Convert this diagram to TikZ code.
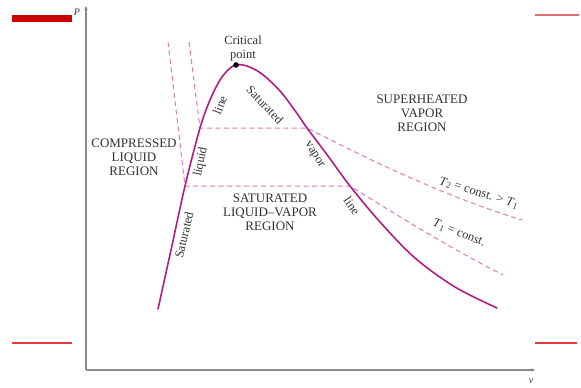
\documentclass[tikz,border=0pt]{standalone}
\usepackage{fontspec}
\setmainfont{Liberation Serif}
\usetikzlibrary{arrows.meta}
\definecolor{satcol}{HTML}{B01E82}
\definecolor{isocol}{HTML}{E27AB8}
\definecolor{axiscol}{HTML}{8A8A8A}
\definecolor{txtcol}{HTML}{333333}
\definecolor{barred}{HTML}{CC0000}
\definecolor{linered}{HTML}{E83A3A}
\definecolor{linepink}{HTML}{E07070}
\begin{document}
\begin{tikzpicture}[x=1pt,y=-1pt,
  axis/.style={draw=axiscol, line width=1.1pt, -{Latex[length=5pt,width=3.5pt]}},
  satline/.style={draw=satcol, line width=1.6pt, line cap=round},
  iso/.style={draw=isocol, line width=1pt, dash pattern=on 5pt off 3.5pt},
  region/.style={text=txtcol, font=\fontsize{13}{14}\selectfont, align=center, inner sep=0pt},
  curvelab/.style={text=txtcol, font=\fontsize{12.5}{14}\selectfont, inner sep=0pt},
  axlab/.style={text=txtcol, font=\fontsize{10}{12}\selectfont\itshape, inner sep=0pt},
  ]
\useasboundingbox (0,0) rectangle (581,388);
\fill[white] (0,0) rectangle (581,388);
% page marks
\fill[barred] (12,15) rectangle (72,22);
\draw[linepink, line width=2pt] (535,15) -- (579,15);
\draw[draw=linered, line width=1.5pt] (12,343) -- (72,343);
\draw[draw=linered, line width=1.5pt] (535,343) -- (577,343);
% axes
\coordinate (O) at (86,370);
\coordinate (Ptop) at (86,5);
\coordinate (Vend) at (536,370);
\draw[axis] (O) -- (Ptop);
\draw[axis] (O) -- (Vend);
\node[axlab] (Plab) at (77,12) {P};
\node[axlab] (vlab) at (531,381) {v};
% key points
\coordinate (cp) at (236,65);
\coordinate (lq1) at (185,186);
\coordinate (lq2) at (200,128);
\coordinate (vp2) at (307,128);
\coordinate (vp1) at (350,186);
\coordinate (t1top) at (168,42);
\coordinate (t2top) at (189,42);
\coordinate (t1end) at (503,275);
\coordinate (t2end) at (522,220);
% isotherms
\draw[iso] (t1top) -- (lq1) -- (vp1) .. controls (395,214) and (450,248) .. (t1end);
\draw[iso] (t2top) -- (lq2) -- (vp2) .. controls (360,155) and (440,195) .. (t2end);
% saturation dome
\draw[satline] plot[smooth, tension=0.55] coordinates {(158,309) (171,250) (lq1) (lq2) (210,100) (220,80) (229,69) (cp) (247,66) (262,74) (280,91) (296,112) (vp2) (328,156) (vp1) (380,222) (415,258) (455,287) (497,308)};
\fill (cp) circle (2.8);
% labels
\node[region, font=\fontsize{12.5}{14}\selectfont] (critlab) at (243,48) {Critical\\point};
\node[region] (comp) at (134,157) {COMPRESSED\\LIQUID\\REGION};
\node[region] (super) at (422,113) {SUPERHEATED\\VAPOR\\REGION};
\node[region] (satlv) at (270,212) {SATURATED\\LIQUID--VAPOR\\REGION};
\node[curvelab, rotate=77] (satL) at (184,235) {Saturated};
\node[curvelab, rotate=78] (liq) at (201,162) {liquid};
\node[curvelab, rotate=68] (lineL) at (220,105) {line};
\node[curvelab, rotate=-46] (satR) at (265,105) {Saturated};
\node[curvelab, rotate=-58] (vap) at (314,155) {vapor};
\node[curvelab, rotate=-55] (lineR) at (352,206) {line};
\node[curvelab, rotate=-17] (T2lab) at (479,193) {\textit{T}\textsubscript{2} = const. > \textit{T}\textsubscript{1}};
\node[curvelab, rotate=-22] (T1lab) at (459,233) {\textit{T}\textsubscript{1} = const.};
\end{tikzpicture}
\end{document}
